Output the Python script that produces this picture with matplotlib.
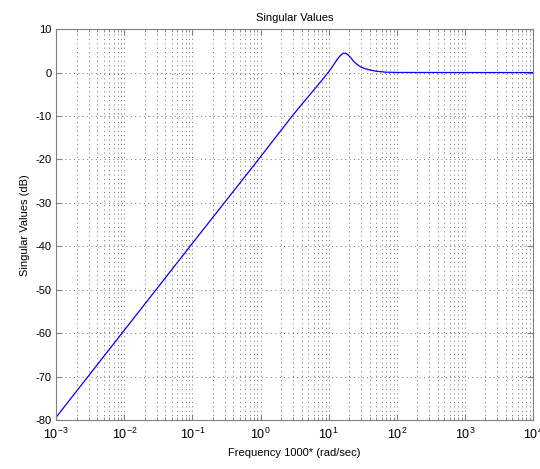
import numpy as np
import matplotlib.pyplot as plt

# frequency (rad/sec) and singular value (dB)
freq = [1e-3, 1e-2, 1e-1, 1.0, 2.0, 2.92, 4.3, 6.0, 8.0, 10.1, 11.0, 12.0, 13.0, 14.1, 15.3,
        16.4, 17.6, 19.0, 20.9, 23.5, 26.5, 29.5, 34.0, 39.0, 50.0, 70.0, 100.0, 1e3, 1e4]
sv_db = [-79.3, -59.3, -39.3, -19.4, -13.3, -10.0, -6.8, -4.1, -1.75, 0.25, 1.05, 1.95, 2.75, 3.5, 4.1,
         4.45, 4.45, 4.15, 3.5, 2.5, 1.8, 1.3, 0.9, 0.65, 0.3, 0.08, 0.02, 0.0, 0.0]

plt.rcParams['font.family'] = ['Liberation Sans', 'DejaVu Sans']
plt.rcParams['font.size'] = 8
plt.rcParams['axes.unicode_minus'] = False

fig = plt.figure(figsize=(5.4, 4.69), dpi=100)
ax = fig.add_axes([0.104, 0.104, 0.883, 0.834])

ax.semilogx(freq, sv_db, color='#0000ff', linewidth=0.9)

ax.set_xlim(1e-3, 1e4)
ax.set_ylim(-80, 10)
ax.set_yticks(np.arange(-80, 11, 10))

dots = (0, (1, 3.5))
ax.grid(True, which='major', linestyle=dots, color='#707070', linewidth=0.7)
ax.grid(True, which='minor', axis='x', linestyle=dots, color='#707070', linewidth=0.7)

for s in ax.spines.values():
    s.set_color('#808080')
ax.tick_params(which='both', direction='in', top=True, right=True, color='#808080')
ax.tick_params(which='major', length=4)
ax.tick_params(which='minor', length=2)
ax.tick_params(axis='x', labelsize=9, pad=5)

ax.set_title('Singular Values', fontsize=8)
ax.set_xlabel('Frequency 1000* (rad/sec)', fontsize=8)
ax.set_ylabel('Singular Values (dB)', fontsize=8)

fig.savefig('out.png', dpi=100)
